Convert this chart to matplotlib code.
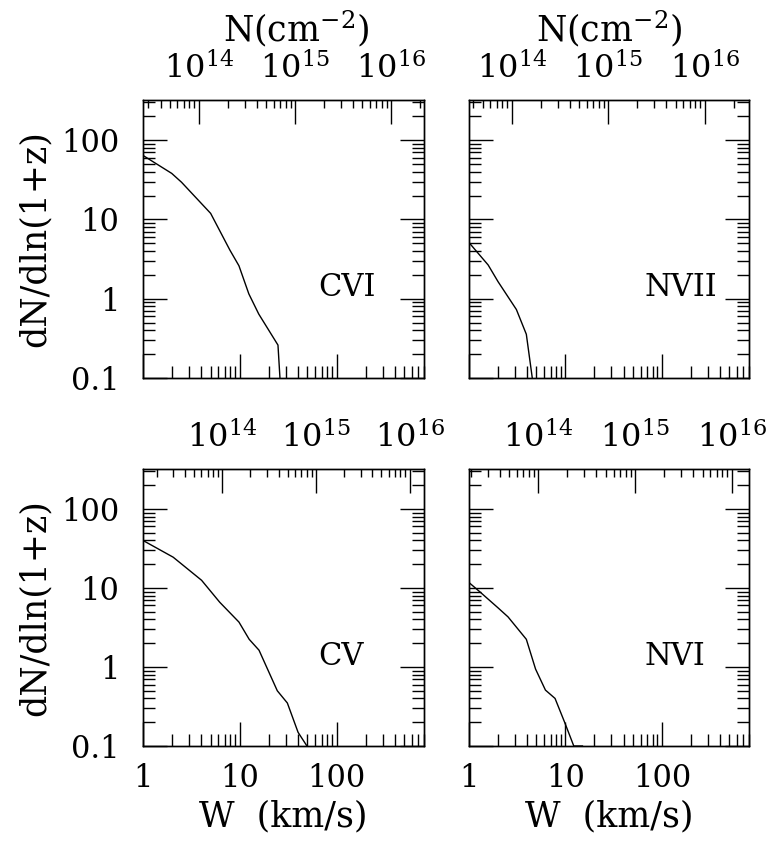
import matplotlib
matplotlib.use("Agg")
from matplotlib import pyplot as plt
from matplotlib import ticker

plt.rcParams["font.family"] = "serif"
plt.rcParams["font.serif"] = ["DejaVu Serif"]
plt.rcParams["mathtext.fontset"] = "dejavuserif"
plt.rcParams["axes.formatter.use_mathtext"] = True
plt.rcParams["font.size"] = 22

# curves: W (km/s) vs dN/dln(1+z)
cvi_w = [1.0, 1.98, 2.5, 5.0, 7.9, 9.8, 12.4, 15.7, 24.8, 26.0]
cvi_n = [64.0, 38.0, 29.4, 11.9, 4.1, 2.6, 1.15, 0.64, 0.26, 0.1]

nvii_w = [1.0, 1.58, 2.0, 3.1, 3.93, 4.53]
nvii_n = [5.1, 2.66, 1.64, 0.73, 0.356, 0.1]

cv_w = [1.0, 2.05, 4.03, 6.2, 9.8, 12.5, 15.8, 24.4, 31.0, 40.0, 49.4]
cv_n = [39.9, 24.5, 12.5, 6.6, 3.7, 2.24, 1.63, 0.50, 0.35, 0.149, 0.1]

nvi_w = [1.0, 1.3, 2.0, 2.54, 3.93, 4.9, 6.2, 7.8, 9.8, 12.2, 15.0]
nvi_n = [11.7, 8.9, 5.6, 4.3, 2.24, 0.94, 0.51, 0.40, 0.20, 0.1, 0.1]

# column density range (log10 N) covered by the top axis of each panel
cvi_nlim = (13.42, 16.34)
nvii_nlim = (13.558, 16.46)
cv_nlim = (13.154, 16.154)
nvi_nlim = (13.283, 16.18)

ion_names = ["CVI", "NVII", "CV", "NVI"]

W_LIM = (1, 800)
Y_LIM = (0.1, 320)
LABEL_SIZE = 25

fig = plt.figure(figsize=(7.72, 8.41), dpi=100)
FW, FH = 772.0, 841.0

#(name, x, y, nlim, left px, top px, width px, height px, name pos x, name pos y)
panels = [
    (ion_names[0], cvi_w, cvi_n, cvi_nlim, 143, 100, 281, 278, 0.726, 0.325),
    (ion_names[1], nvii_w, nvii_n, nvii_nlim, 469, 100, 280, 278, 0.757, 0.325),
    (ion_names[2], cv_w, cv_n, cv_nlim, 143, 469, 281, 277, 0.706, 0.322),
    (ion_names[3], nvi_w, nvi_n, nvi_nlim, 469, 469, 280, 277, 0.736, 0.322),
]

plain = ticker.FuncFormatter(lambda v, p: "%g" % v)

for i, (name, w, n, nlim, lpx, tpx, wpx, hpx, tx, ty) in enumerate(panels):
    row, col = divmod(i, 2)
    ax = fig.add_axes([lpx / FW, 1 - (tpx + hpx) / FH, wpx / FW, hpx / FH])
    ax.plot(w, n, color="k", lw=1.0)
    ax.set_xscale("log")
    ax.set_yscale("log")
    ax.set_xlim(*W_LIM)
    ax.set_ylim(*Y_LIM)

    ax.xaxis.set_major_formatter(plain)
    ax.yaxis.set_major_formatter(plain)
    ax.xaxis.set_minor_formatter(ticker.NullFormatter())
    ax.yaxis.set_minor_formatter(ticker.NullFormatter())
    ax.tick_params(which="both", direction="in", top=False, right=True, width=1.0)
    ax.tick_params(which="major", length=17)
    ax.tick_params(which="minor", length=8.5)
    ax.tick_params(axis="x", pad=12)
    ax.tick_params(axis="y", pad=17)
    for s in ax.spines.values():
        s.set_linewidth(1.0)

    if row == 0:
        ax.tick_params(labelbottom=False)
    if col == 1:
        ax.tick_params(labelleft=False)

    # top axis in column density
    ax2 = ax.twiny()
    ax2.set_xscale("log")
    ax2.set_xlim(10 ** nlim[0], 10 ** nlim[1])
    ax2.xaxis.set_minor_formatter(ticker.NullFormatter())
    ax2.tick_params(which="both", direction="in", width=1.0, pad=10, labelsize=23)
    ax2.tick_params(which="major", length=17)
    ax2.tick_params(which="minor", length=6)
    for s in ax2.spines.values():
        s.set_linewidth(1.0)

    ax.text(tx, ty, name, transform=ax.transAxes, ha="center", va="center")

    if row == 0:
        ax.text(0.545 if col == 0 else 0.5, 1.255, r"N(cm$^{-2}$)",
                transform=ax.transAxes, ha="center", va="center",
                fontsize=LABEL_SIZE)
    else:
        ax.text(0.5, -0.256, "W  (km/s)", transform=ax.transAxes,
                ha="center", va="center", fontsize=LABEL_SIZE)

    if col == 0:
        fig.text(35 / FW, 1 - (tpx + hpx / 2) / FH, "dN/dln(1+z)",
                 rotation=90, ha="center", va="center", fontsize=LABEL_SIZE)

plt.savefig("out.png", dpi=100)
